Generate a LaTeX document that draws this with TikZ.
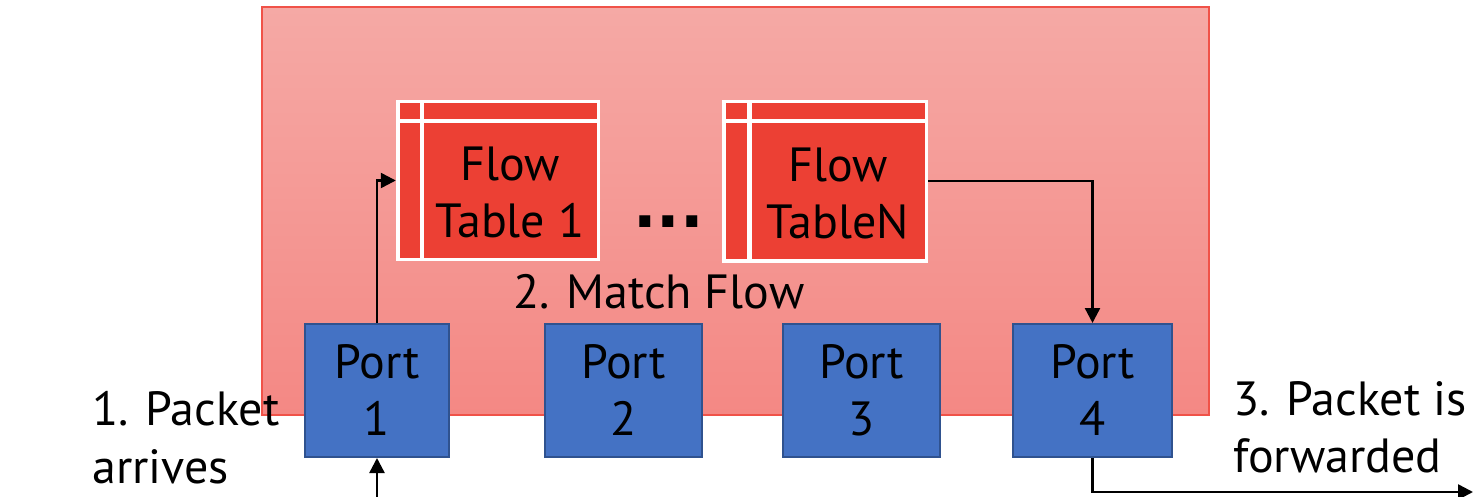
\documentclass[tikz,border=0pt]{standalone}
\usepackage{fontspec}
\setmainfont{PT Sans}
\newfontfamily\dotfont{DejaVu Sans}
\usetikzlibrary{arrows.meta}

\definecolor{swtop}{RGB}{245,169,165}
\definecolor{swbottom}{RGB}{244,136,132}
\definecolor{swborder}{RGB}{240,82,72}
\definecolor{cellred}{RGB}{236,64,52}
\definecolor{portfill}{RGB}{68,114,196}
\definecolor{portborder}{RGB}{47,82,143}

\tikzset{
  txt/.style={font=\fontsize{48}{57}\selectfont, text=black, inner sep=0pt},
  portbox/.style={draw=portborder, line width=2pt, fill=portfill, inner sep=0pt,
    minimum height=133pt, align=center, txt},
  frame/.style={fill=white, inner sep=0pt, minimum height=161pt},
  cell/.style={fill=cellred},
  arr/.style={line width=2.4pt, draw=black, -{Triangle[length=15pt,width=15pt]}},
}

\begin{document}
\begin{tikzpicture}[x=1pt,y=-1pt]
\useasboundingbox (0,0) rectangle (1480,497);
\fill[white] (0,0) rectangle (1480,497);

% switch body
\node[draw=swborder, line width=1.2pt, top color=swtop, bottom color=swbottom,
      minimum width=947pt, minimum height=408pt, inner sep=0pt] (switch) at (735.5,211) {};

% flow table 1
\node[frame, minimum width=204pt] (ft1) at (498,180.5) {};
\fill[cell] (399.5,103.5) rectangle (420,119);
\fill[cell] (424,103.5) rectangle (596.5,119);
\fill[cell] (399.5,123) rectangle (420,257.5);
\fill[cell] (424,123) rectangle (596.5,257.5);
\node[txt, align=center] (ft1txt) at (510,192) {Flow\\Table 1};

% flow table N
\node[frame, minimum width=206pt, minimum height=162.5pt] (ftN) at (825,181.25) {};
\fill[cell] (725.5,103.5) rectangle (747,119);
\fill[cell] (751.5,103.5) rectangle (924.5,119);
\fill[cell] (725.5,123) rectangle (747,259);
\fill[cell] (751.5,123) rectangle (924.5,259);
\node[txt, align=center] (ftNtxt) at (838,193) {Flow\\TableN};

% ellipsis between the tables
\node[txt, font=\dotfont\bfseries\fontsize{62}{66}\selectfont, anchor=base] (dots) at (668.5,227) {...};

\node[txt, anchor=base west] (match) at (513,308) {2. Match Flow};

% ports
\node[portbox, minimum width=144pt] (p1) at (377,390.5) {Port\\1};
\node[portbox, minimum width=157pt] (p2) at (623.5,390.5) {Port\\2};
\node[portbox, minimum width=157pt] (p3) at (861.5,390.5) {Port\\3};
\node[portbox, minimum width=159pt] (p4) at (1092.5,390.5) {Port\\4};

% step labels
\node[txt, anchor=base west] (l1a) at (92,425) {1. Packet};
\node[txt, anchor=base west] (l1b) at (92,483) {arrives};
\node[txt, anchor=base west] (l3a) at (1233,415) {3. Packet is};
\node[txt, anchor=base west] (l3b) at (1233,472) {forwarded};

% packet path
\coordinate (in) at (377,497);
\coordinate (out) at (1473,492);
\draw[arr] (in) -- (p1.south);
\draw[arr] (p1.north) |- (ft1.west);
\draw[arr] (ftN.east) -| (p4.north);
\draw[arr] (p4.south) |- (out);
\end{tikzpicture}
\end{document}
